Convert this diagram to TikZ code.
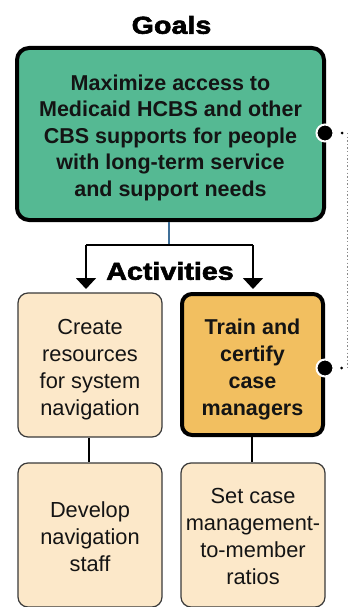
\documentclass[tikz,border=0pt]{standalone}
\usepackage{fontspec}
\setmainfont{Liberation Sans}
\newfontfamily\heavyfont[FakeStretch=1.17,BoldFeatures={FakeBold=2.4}]{Liberation Sans}
\usetikzlibrary{arrows.meta}
\definecolor{goalgreen}{HTML}{55B993}
\definecolor{keyorange}{HTML}{F2BF60}
\definecolor{beige}{HTML}{FCE8C9}
\definecolor{boxline}{HTML}{3A3A3A}
\definecolor{txt}{HTML}{141414}
\definecolor{linkblue}{HTML}{3F6F98}
\definecolor{dotgray}{HTML}{8A8A8A}
\newcommand\boxtext[2][3.5pt]{\raisebox{-#1}[\height][\depth]{\begin{tabular}{@{}c@{}}#2\end{tabular}}}
\tikzset{
  heading/.style={font=\heavyfont\bfseries\fontsize{24.5}{28}\selectfont, text=black, inner sep=0pt},
  goalbox/.style={draw=black, line width=4pt, fill=goalgreen, rounded corners=12pt,
    minimum width=307pt, minimum height=172pt, inner sep=0pt, text=txt,
    font=\bfseries\fontsize{21.5}{26.4}\selectfont},
  actbox/.style={draw=boxline, line width=1.2pt, fill=beige, rounded corners=10pt,
    minimum width=144pt, minimum height=144pt, inner sep=0pt, text=txt,
    font=\fontsize{21.8}{27}\selectfont},
  keybox/.style={actbox, draw=black, line width=4pt, fill=keyorange,
    minimum width=141pt, minimum height=141pt, font=\bfseries\fontsize{21.5}{27}\selectfont},
  flow/.style={draw=black, line width=1.8pt},
  flowarrow/.style={flow, -{Triangle[width=20pt,length=11pt]}},
  bluelink/.style={draw=linkblue, line width=1.6pt},
  bigdot/.style={circle, fill=black, draw=white, line width=2pt, minimum size=17pt, inner sep=0pt},
  smalldot/.style={circle, fill=black, minimum size=3pt, inner sep=0pt},
  dotline/.style={draw=dotgray, line width=0.7pt, dash pattern=on 1.4pt off 2.2pt}
}
\begin{document}
\begin{tikzpicture}[x=1pt,y=-1pt]
\useasboundingbox[fill=white] (0,0) rectangle (349,607);

\node[heading] (goals) at (171.5,25) {Goals};
\node[goalbox] (goal) at (170.5,134) {\boxtext[4pt]{Maximize access to\\Medicaid HCBS and other\\CBS supports for people\\with long-term service\\and support needs}};

\coordinate (split) at (169,245);
\coordinate (la) at (86,245);
\coordinate (ra) at (253,245);
\coordinate (lt) at (86,289);
\coordinate (rt) at (253,289);
\draw[bluelink] (goal.south -| split) -- (split);
\draw[flow] (la) -- (ra);
\draw[flowarrow] (la) -- (lt);
\draw[flowarrow] (ra) -- (rt);

\node[heading] (acts) at (170,271) {Activities};

\node[actbox] (create) at (90,365) {\boxtext[5pt]{Create\\resources\\for system\\navigation}};
\node[keybox] (train) at (252.5,364.5) {\boxtext[5pt]{Train and\\certify\\case\\managers}};
\node[actbox] (develop) at (90,535) {\boxtext[4pt]{Develop\\navigation\\staff}};
\node[actbox] (ratio) at (253,535) {\boxtext[4pt]{Set case\\management-\\to-member\\ratios}};

\draw[flow] (create.south -| 89,0) -- (develop.north -| 89,0);
\draw[flow] (train.south -| 252,0) -- (ratio.north -| 252,0);

\node[bigdot] (d1) at (325,133) {};
\node[bigdot] (d2) at (325,368) {};
\node[smalldot] (s1) at (342,133) {};
\node[smalldot] (s2) at (341.5,368) {};
\coordinate (t1) at (347,133);
\coordinate (t2) at (347,368);
\draw[dotline] (t1) -- (t2);
\end{tikzpicture}
\end{document}
